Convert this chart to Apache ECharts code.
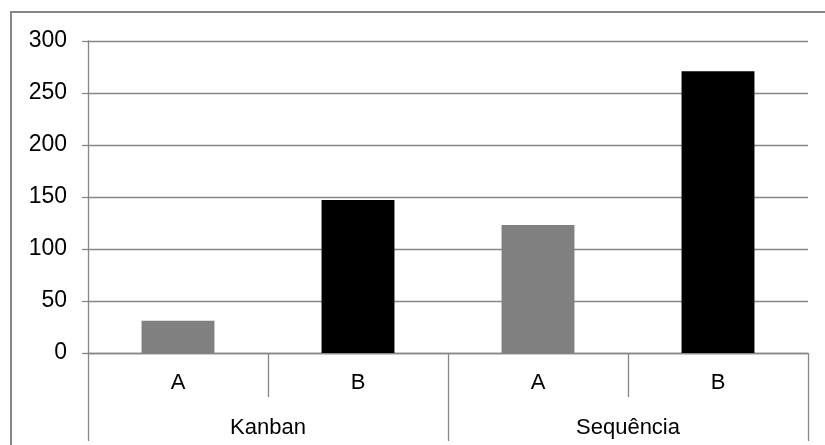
<!DOCTYPE html>
<html>
<head>
<meta charset="utf-8">
<script src="https://cdn.jsdelivr.net/npm/echarts@6/dist/echarts.min.js"></script>
<style>
html,body{margin:0;padding:0;background:#fff;}
#chart{width:825px;height:445px;}
</style>
</head>
<body>
<div id="chart"></div>
<script>
const subCategories = ['A', 'B', 'A', 'B'];
const groupCategories = ['Kanban', 'Sequência'];
const values = [31, 147, 123, 271];
const barColors = ['#808080', '#000000', '#808080', '#000000'];
const yTicks = [0, 50, 100, 150, 200, 250, 300];

const axisGray = '#868686';
const font = '"Liberation Sans", Arial, sans-serif';

const chart = echarts.init(document.getElementById('chart'), null, {renderer: 'canvas'});
chart.setOption({
  animation: false,
  backgroundColor: '#fff',
  graphic: [{
    type: 'rect',
    shape: {x: 11, y: 12, width: 900, height: 600},
    style: {fill: 'none', stroke: axisGray, lineWidth: 2},
    silent: true,
    z: -10
  }],
  grid: {left: 88, right: 17, top: 41, bottom: 92, containLabel: false},
  xAxis: [{
    type: 'category',
    data: subCategories,
    position: 'bottom',
    boundaryGap: true,
    axisLine: {show: true, lineStyle: {color: axisGray, width: 1.3}},
    axisTick: {show: true, interval: 0, length: 44, lineStyle: {color: axisGray, width: 1.3}},
    axisLabel: {interval: 0, margin: 19, color: '#000', fontSize: 22, fontFamily: font},
    splitLine: {show: false}
  }, {
    type: 'category',
    data: groupCategories,
    position: 'bottom',
    offset: 44,
    boundaryGap: true,
    axisLine: {show: false},
    axisTick: {show: true, interval: 0, length: 44, lineStyle: {color: axisGray, width: 1.3}},
    axisLabel: {interval: 0, margin: 20, color: '#000', fontSize: 22, fontFamily: font},
    splitLine: {show: false}
  }],
  yAxis: {
    type: 'value',
    min: yTicks[0],
    max: yTicks[yTicks.length - 1],
    interval: yTicks[1] - yTicks[0],
    axisLine: {show: true, lineStyle: {color: axisGray, width: 1.3}},
    axisTick: {show: true, inside: false, length: 6, lineStyle: {color: axisGray, width: 1.3}},
    axisLabel: {margin: 21, color: '#000', fontSize: 23, fontFamily: font},
    splitLine: {show: true, lineStyle: {color: axisGray, width: 1.3}}
  },
  series: [{
    type: 'bar',
    xAxisIndex: 0,
    barWidth: '40.5%',
    data: values.map((v, i) => ({value: v, itemStyle: {color: barColors[i]}}))
  }]
});
</script>
</body>
</html>
